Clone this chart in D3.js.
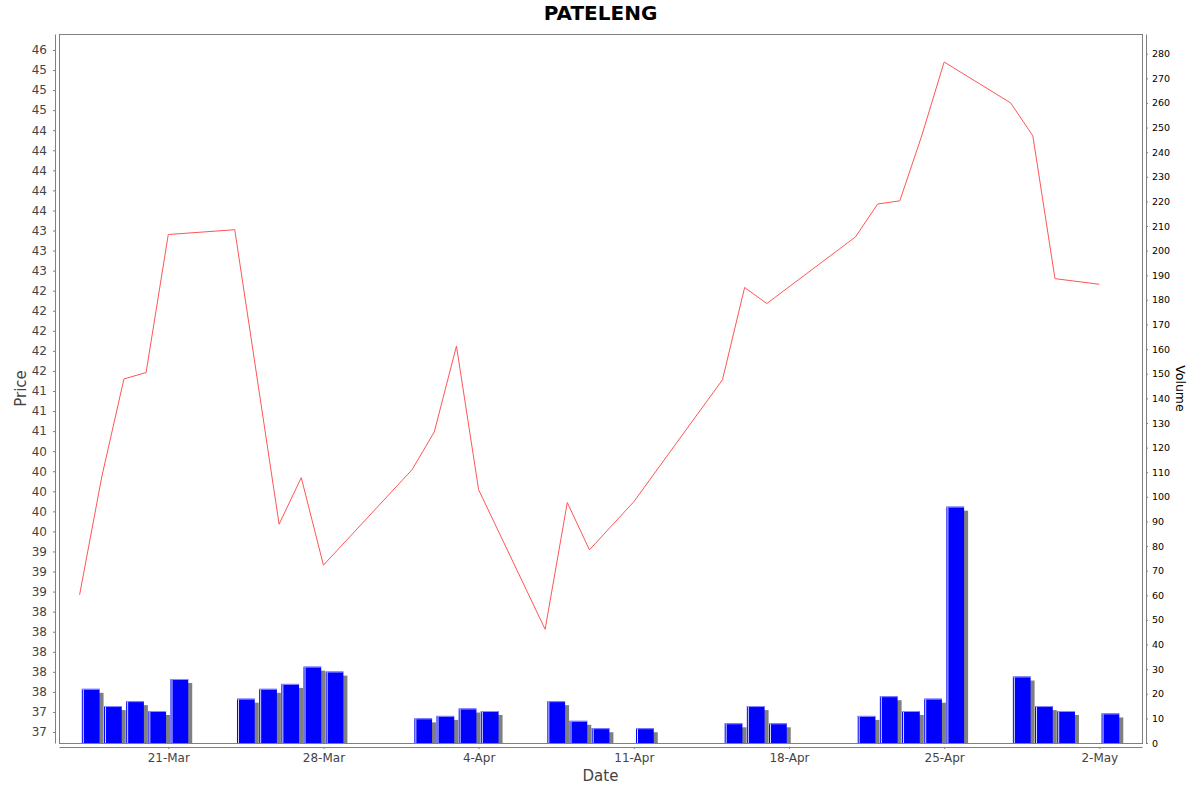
<!DOCTYPE html>
<html>
<head>
<meta charset="utf-8">
<script src="https://cdn.jsdelivr.net/npm/d3@7"></script>
<style>
body { margin: 0; background: #fff; }
text { font-family: "DejaVu Sans", sans-serif; }
</style>
</head>
<body>
<div id="chart"></div>
<script>
// trading days shown on the chart
var dates = ["2025-03-17", "2025-03-18", "2025-03-19", "2025-03-20", "2025-03-21",
	"2025-03-24", "2025-03-25", "2025-03-26", "2025-03-27", "2025-03-28",
	"2025-04-01", "2025-04-02", "2025-04-03", "2025-04-04",
	"2025-04-07", "2025-04-08", "2025-04-09", "2025-04-11",
	"2025-04-15", "2025-04-16", "2025-04-17",
	"2025-04-21", "2025-04-22", "2025-04-23", "2025-04-24", "2025-04-25",
	"2025-04-28", "2025-04-29", "2025-04-30", "2025-05-02"];
// close price, null where the line shows no vertex
var prices = [38.71, 40.18, 41.40, 41.48, 43.20,
	43.26, null, 39.59, 40.17, 39.08,
	40.27, 40.74, 41.81, 40.02,
	38.28, 39.86, 39.27, 39.87,
	41.39, 42.54, 42.34,
	43.17, 43.58, 43.62, 44.44, 45.35,
	44.84, 44.43, 42.65, 42.58];
var volumes = [22, 15, 17, 13, 26,
	18, 22, 24, 31, 29,
	10, 11, 14, 13,
	17, 9, 6, 6,
	8, 15, 8,
	11, 19, 13, 18, 96,
	27, 15, 13, 12];
var priceTicks = d3.range(37, 45.51, 0.25);
var volumeTicks = d3.range(0, 281, 10);
var dateTicks = ["2025-03-21", "2025-03-28", "2025-04-04", "2025-04-11", "2025-04-18", "2025-04-25", "2025-05-02"];

var width = 1200, height = 792;
var plot = {left: 59, top: 34, right: 1142, bottom: 743};
var DAY = 864e5, HOUR = 36e5;

var parse = d3.timeParse("%Y-%m-%d");
var days = dates.map(parse);
var rows = days.map(function(d, i){ return {date: d, price: prices[i], volume: volumes[i]}; });

var x = d3.scaleTime()
	.domain([new Date(+days[0] - 22.3 * HOUR), new Date(+days[days.length - 1] + 46.2 * HOUR)])
	.range([plot.left, plot.right]);
var yPrice = d3.scaleLinear().domain([36.863, 45.699]).range([plot.bottom, plot.top]);
var yVol = d3.scaleLinear().domain([0, 288]).range([plot.bottom, plot.top]);

// java style HALF_EVEN rounding for the price labels
var halfEven = function(v){
	var f = Math.floor(v);
	if (Math.abs(v - f - 0.5) < 1e-9) { return (f % 2 === 0) ? f : f + 1; }
	return Math.round(v);
};

var svg = d3.select("#chart").append("svg")
	.attr("width", width)
	.attr("height", height);

svg.append("rect").attr("width", width).attr("height", height).attr("fill", "#fff");

svg.append("clipPath").attr("id", "clip")
	.append("rect")
	.attr("x", plot.left).attr("y", plot.top)
	.attr("width", plot.right - plot.left).attr("height", plot.bottom - plot.top);

var g = svg.append("g").attr("clip-path", "url(#clip)");

var barX0 = function(d){ return x(new Date(+d.date + 0.1 * DAY)); };
var barX1 = function(d){ return x(new Date(+d.date + 0.9 * DAY)); };

// shadows first, then the bars
g.selectAll(".shadow").data(rows).enter()
	.append("rect")
	.attr("class", "shadow")
	.attr("x", function(d){ return barX0(d) + 4; })
	.attr("y", function(d){ return yVol(d.volume) + 4; })
	.attr("width", function(d){ return barX1(d) - barX0(d); })
	.attr("height", function(d){ return plot.bottom - yVol(d.volume); })
	.attr("fill", "#808080");

var bars = g.selectAll(".bar").data(rows).enter().append("g").attr("class", "bar");
bars.append("rect")
	.attr("x", barX0)
	.attr("y", function(d){ return yVol(d.volume); })
	.attr("width", function(d){ return barX1(d) - barX0(d); })
	.attr("height", function(d){ return plot.bottom - yVol(d.volume); })
	.attr("fill", "#0000ff");
bars.append("line")
	.attr("x1", function(d){ return barX0(d) + 1.5; })
	.attr("x2", function(d){ return barX0(d) + 1.5; })
	.attr("y1", function(d){ return yVol(d.volume); })
	.attr("y2", plot.bottom)
	.attr("stroke", "#d8d8ff").attr("stroke-width", 1);
bars.append("line")
	.attr("x1", function(d){ return barX0(d); })
	.attr("x2", function(d){ return barX1(d); })
	.attr("y1", function(d){ return yVol(d.volume) + 0.5; })
	.attr("y2", function(d){ return yVol(d.volume) + 0.5; })
	.attr("stroke", "#8c8cff").attr("stroke-width", 1);

var line = d3.line()
	.x(function(d){ return x(d.date); })
	.y(function(d){ return yPrice(d.price); });
g.append("path")
	.datum(rows.filter(function(d){ return d.price != null; }))
	.attr("d", line)
	.attr("fill", "none")
	.attr("stroke", "#ff5555")
	.attr("stroke-width", 1);

// plot outline
svg.append("rect")
	.attr("x", plot.left + 0.5).attr("y", plot.top + 0.5)
	.attr("width", plot.right - plot.left).attr("height", plot.bottom - plot.top)
	.attr("fill", "none").attr("stroke", "#808080");

var leftAxis = svg.append("g")
	.attr("transform", "translate(55,0)")
	.call(d3.axisLeft(yPrice).tickValues(priceTicks).tickFormat(halfEven)
		.tickSize(2).tickSizeOuter(0).tickPadding(6));
leftAxis.selectAll("text").attr("font-size", 12).attr("font-family", "DejaVu Sans").attr("fill", "#444");

var rightAxis = svg.append("g")
	.attr("transform", "translate(1146,0)")
	.call(d3.axisRight(yVol).tickValues(volumeTicks)
		.tickSize(2).tickSizeOuter(0).tickPadding(4));
rightAxis.selectAll("text").attr("font-size", 9.5).attr("font-family", "DejaVu Sans").attr("fill", "#000");

var bottomAxis = svg.append("g")
	.attr("transform", "translate(0,747)")
	.call(d3.axisBottom(x).tickValues(dateTicks.map(parse)).tickFormat(d3.timeFormat("%-d-%b"))
		.tickSize(2).tickSizeOuter(0).tickPadding(4));
bottomAxis.selectAll("text").attr("font-size", 12).attr("font-family", "DejaVu Sans").attr("fill", "#444");

[leftAxis, rightAxis, bottomAxis].forEach(function(a){
	a.select(".domain").attr("stroke", "#808080");
	a.selectAll(".tick line").attr("stroke", "#808080");
});

svg.append("text")
	.attr("x", 600.5).attr("y", 19.5)
	.attr("text-anchor", "middle")
	.attr("font-size", 20).attr("font-weight", "bold")
	.attr("fill", "#000")
	.text("PATELENG");

svg.append("text")
	.attr("x", 600.5).attr("y", 781)
	.attr("text-anchor", "middle")
	.attr("font-size", 15).attr("fill", "#444")
	.text("Date");

svg.append("text")
	.attr("transform", "translate(26,388.5) rotate(-90)")
	.attr("text-anchor", "middle")
	.attr("font-size", 15).attr("fill", "#444")
	.text("Price");

svg.append("text")
	.attr("transform", "translate(1176,388.5) rotate(90)")
	.attr("text-anchor", "middle")
	.attr("font-size", 12.5).attr("fill", "#000")
	.text("Volume");
</script>
</body>
</html>
